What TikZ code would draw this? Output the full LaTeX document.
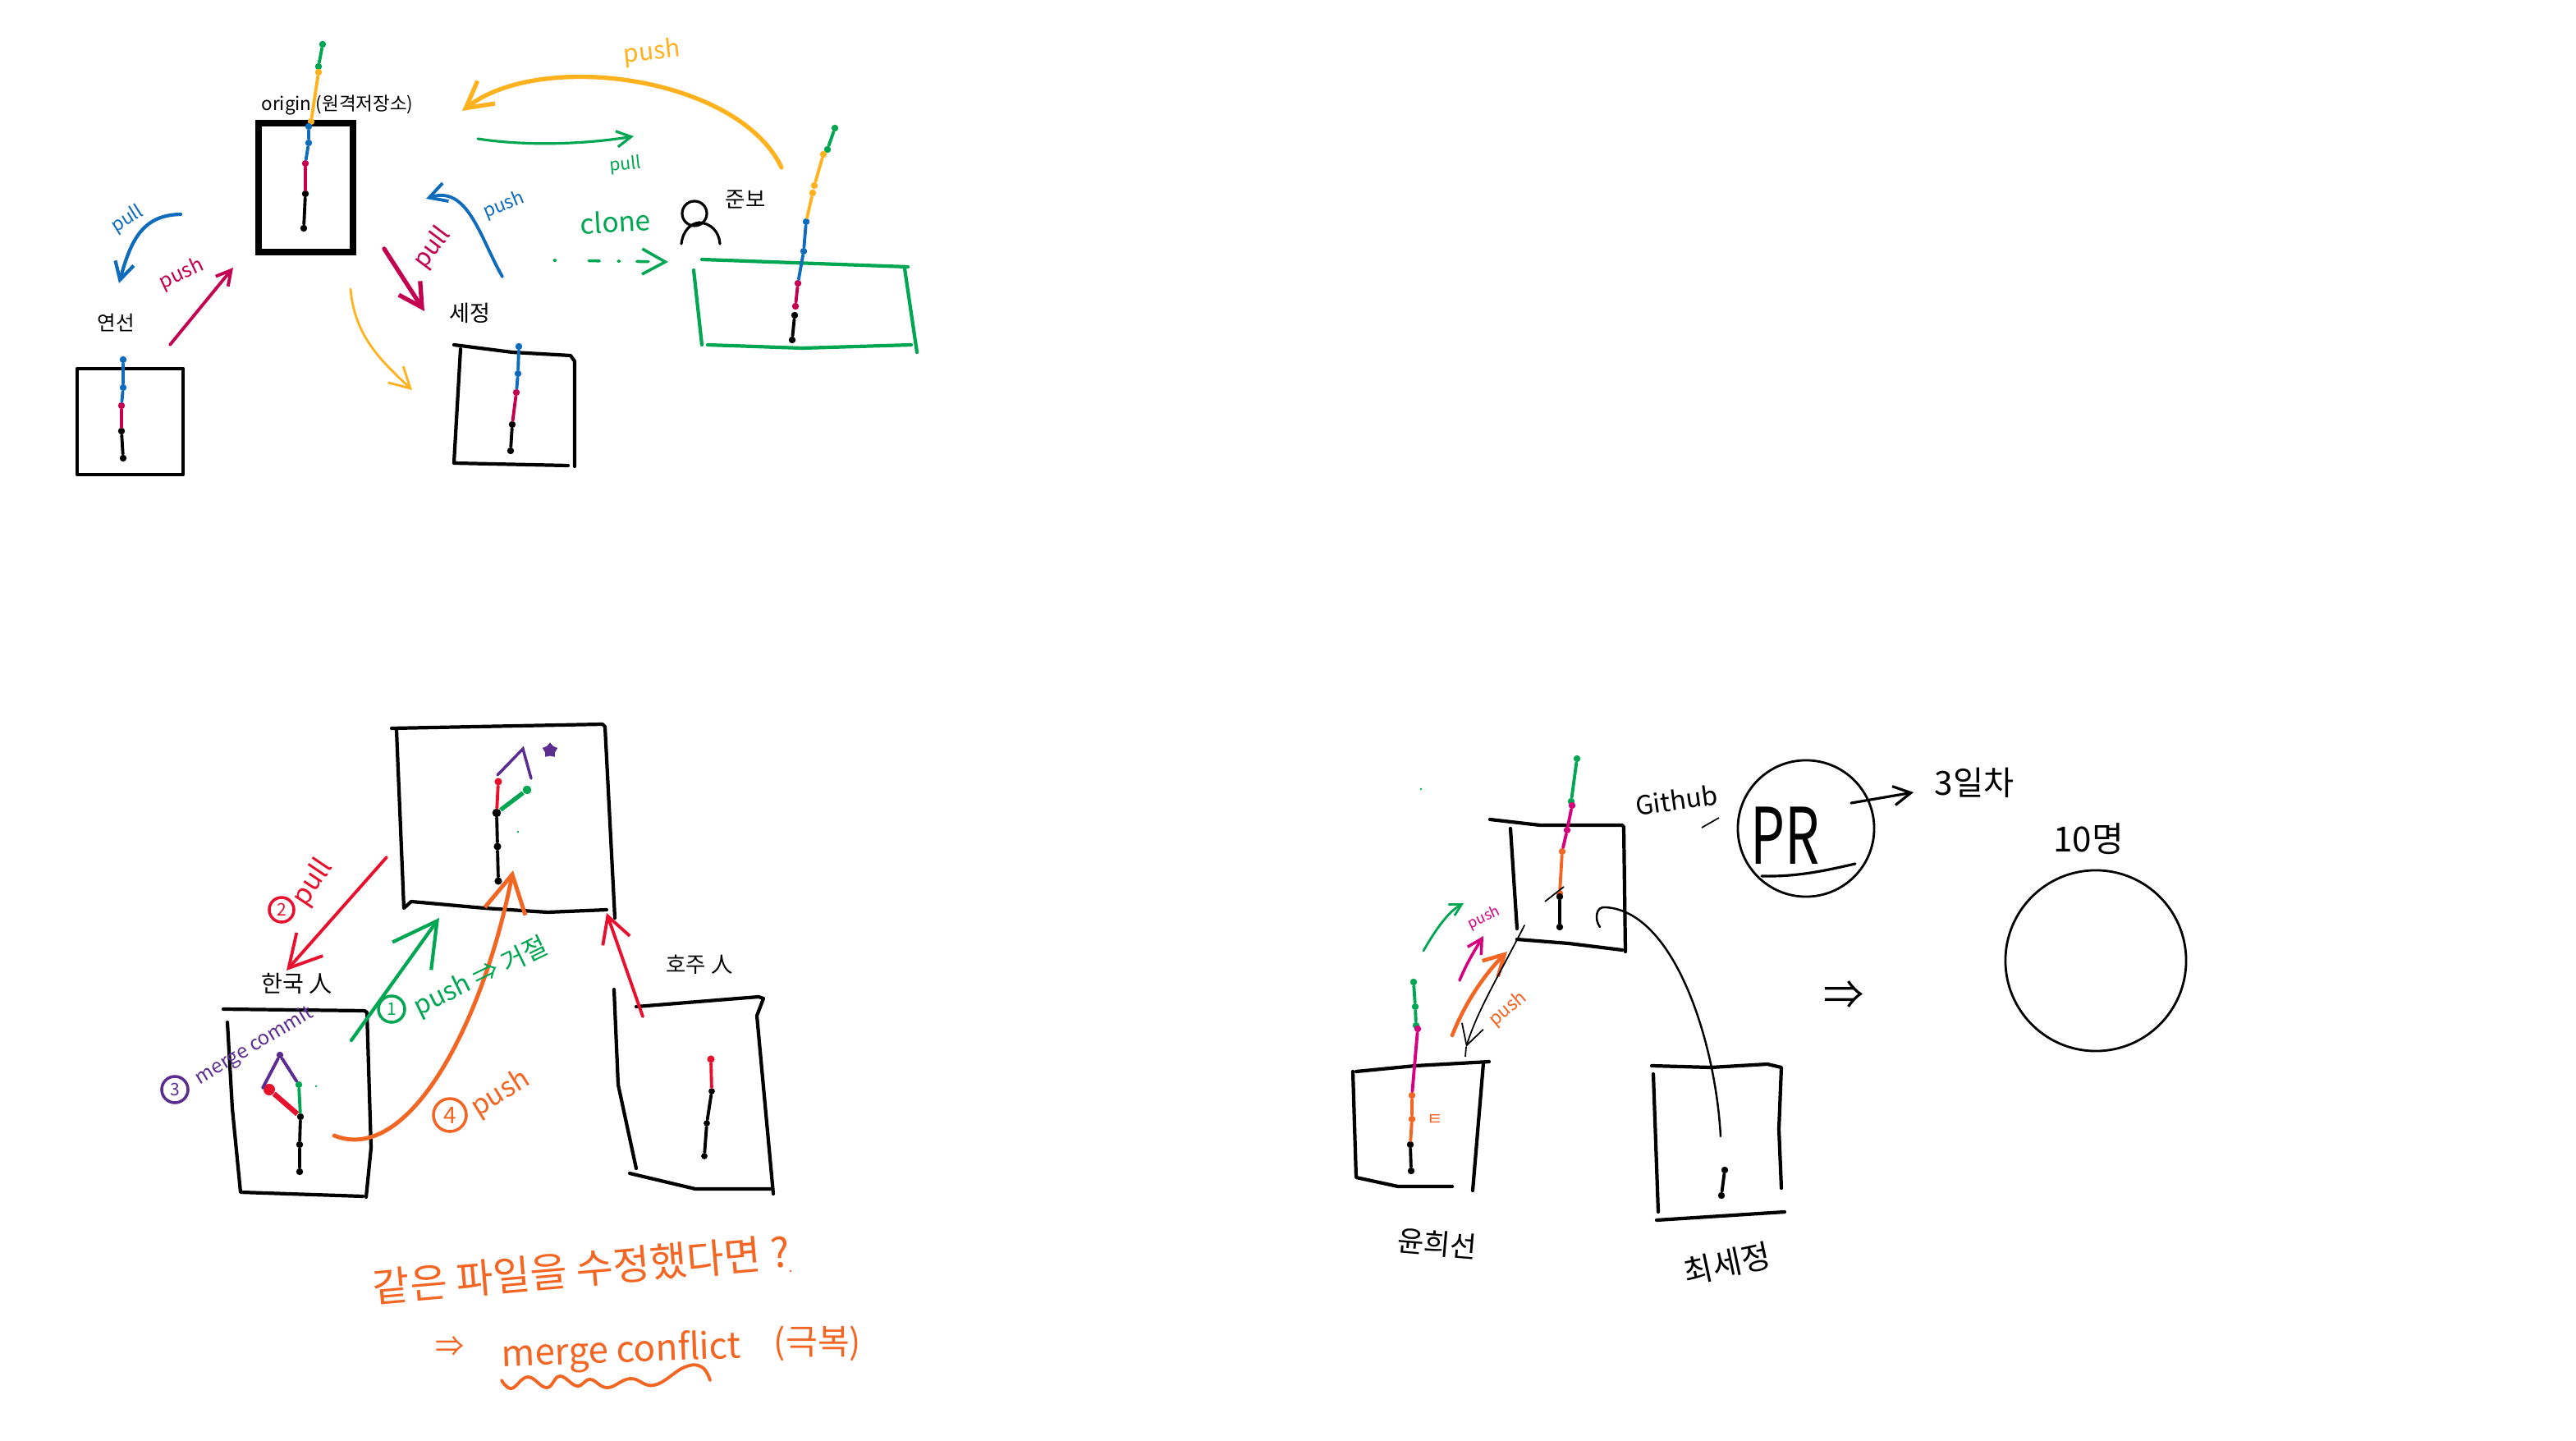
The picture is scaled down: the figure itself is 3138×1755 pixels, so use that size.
\documentclass[tikz,border=0pt]{standalone}
\usepackage{fontspec}
\setmainfont{Noto Sans CJK KR}
\usetikzlibrary{arrows.meta,shapes.geometric}
\definecolor{gityellow}{HTML}{FFB21E}
\definecolor{gitgreen}{HTML}{00A651}
\definecolor{gitblue}{HTML}{0F6CBD}
\definecolor{gitcrimson}{HTML}{C40050}
\definecolor{gitred}{HTML}{E8112D}
\definecolor{gitpurple}{HTML}{5C2D91}
\definecolor{gitorange}{HTML}{F26522}
\definecolor{gitmagenta}{HTML}{D6007F}
\tikzset{
  hand/.style={font=\fontsize{#1}{#1}\selectfont,inner sep=0pt},
  commit/.style={circle,inner sep=0pt,minimum size=2.4pt},
  link/.style={line width=1.1pt,line cap=round},
  box/.style={line width=1.2pt,line cap=round,line join=round},
  arrowl/.style={line cap=round,line width=#1},
  barb/.style={-{Straight Barb[length=#1,width=#1*1.1]}},
  numcircle/.style={circle,draw,line width=1pt,inner sep=0pt,minimum size=#1}
}
\begin{document}
\begin{tikzpicture}[x=0.01cm,y=-0.01cm]
    \useasboundingbox (0,0) rectangle (3138,1755);
    \fill[white] (0,0) rectangle (3138,1755);
    % first sketch
    \draw[line width=2pt] (315,150) rectangle (430,307);
    \draw[box] (94,449) rectangle (223,578);
    \draw[box] (553,420) -- (624,429) -- (695,433) -- (700,440) -- (700,568);
    \draw[box] (561,425) -- (553,564) -- (692,567);
    \draw[box,gitgreen] (855,316) -- (1106,325);
    \draw[box,gitgreen] (845,329) -- (855,420);
    \draw[box,gitgreen] (1102,327) -- (1117,429);
    \draw[box,gitgreen] (862,420) -- (977,424) -- (1110,420);
    \foreach \n/\x/\y/\col in {
        og/393/54/gitgreen,ogb/388/81/gitgreen,oy/388/88/gityellow,oyb/379/148/gityellow,
        ob/376/154/gitblue,obb/376/174/gitblue,oc/372/199/gitcrimson,
        ok/372/236/black,okb/370/278/black,
        yb/150/438/gitblue,ybb/150/472/gitblue,yc/148/494/gitcrimson,yk/148/525/black,ykb/150/558/black,
        sb/632/422/gitblue,sbb/631/455/gitblue,sc/629/478/gitcrimson,sk/624/517/black,skb/622/549/black,
        jg/1017/156/gitgreen,jgb/1008/182/gitgreen,jy/1003/188/gityellow,jyb/992/226/gityellow,
        jyc/990/235/gityellow,jb/982/270/gitblue,jbb/979/306/gitblue,jc/972/345/gitcrimson,
        jcb/969/373/gitcrimson,jk/968/384/black,jkb/965/414/black}
      \node[commit,fill=\col] (\n) at (\x,\y) {};
    \draw[link,gitgreen] (og) -- (ogb);
    \draw[link,gityellow] (oy) -- (oyb);
    \draw[link,gitblue] (ob) -- (obb) -- (oc);
    \draw[link,gitcrimson] (oc) -- (ok);
    \draw[link] (ok) -- (okb);
    \draw[link,gitblue] (yb) -- (ybb) -- (yc);
    \draw[link,gitcrimson] (yc) -- (yk);
    \draw[link] (yk) -- (ykb);
    \draw[link,gitblue] (sb) -- (sbb) -- (sc);
    \draw[link,gitcrimson] (sc) -- (sk);
    \draw[link] (sk) -- (skb);
    \draw[link,gitgreen] (jg) -- (jgb);
    \draw[link,gityellow] (jy) -- (jyb);
    \draw[link,gityellow] (jyc) -- (jb);
    \draw[link,gitblue] (jb) -- (jbb) -- (jc);
    \draw[link,gitcrimson] (jc) -- (jcb);
    \draw[link] (jk) -- (jkb);
    \foreach \n/\x/\y in {
        ypushs/952/204,ypushe/563/135,gpulls/582/169,gpulle/772/166,bpulls/220/261,bpulle/145/345,
        cpushs/207/420,cpushe/284/326,bpushs/612/337,bpushe/519/242,cpulls/468/303,cpulle/517/379,
        ypulls/427/352,ypulle/502/475,clones/675/317,clonee/814/319}
      \coordinate (\n) at (\x,\y);
    \draw[arrowl=1.5pt,gityellow,barb=9pt] (ypushs) .. controls (900,94) and (660,60) .. (ypushe);
    \draw[arrowl=.9pt,gitgreen,barb=5pt] (gpulls) .. controls (640,178) and (710,176) .. (gpulle);
    \draw[arrowl=1.2pt,gitblue,barb=6pt] (bpulls) .. controls (175,262) and (160,290) .. (bpulle);
    \draw[arrowl=1.1pt,gitcrimson,barb=5pt] (cpushs) -- (cpushe);
    \draw[arrowl=1.1pt,gitblue,barb=6pt] (bpushs) .. controls (585,290) and (570,225) .. (bpushe);
    \draw[arrowl=1.5pt,gitcrimson,barb=8pt] (cpulls) -- (cpulle);
    \draw[arrowl=.8pt,gityellow,barb=7pt] (ypulls) .. controls (432,410) and (465,440) .. (ypulle);
    \draw[arrowl=1pt,gitgreen,barb=8pt,dash pattern=on .5pt off 11.5pt on 3.7pt off 6.5pt on .5pt off 6pt on 4pt off 20pt] (clones) -- (clonee);
    \node[hand=6.4] (originlabel) at (411,128) {origin (원격저장소)};
    \node[hand=8.5,gityellow,rotate=6] (ypushlabel) at (794,64) {push};
    \node[hand=6,gitgreen,rotate=6] (gpulllabel) at (762,201) {pull};
    \node[hand=6.5,gitblue,rotate=32] (bpulllabel) at (155,267) {pull};
    \node[hand=7,gitcrimson,rotate=25] (cpushlabel) at (221,334) {push};
    \node[hand=6.4,gitblue,rotate=22] (bpushlabel) at (614,250) {push};
    \node[hand=8.5,gitcrimson,rotate=53] (cpulllabel) at (527,302) {pull};
    \node[hand=9.5,gitgreen,rotate=3] (clonelabel) at (750,270) {clone};
    \node[hand=7] (yeonlabel) at (141,393) {연선};
    \node[hand=7.7] (sejlabel) at (572,381) {세정};
    \node[hand=7.5] (junlabel) at (908,243) {준보};
    \node[circle,draw,line width=.9pt,minimum size=.3cm,inner sep=0pt] (junhead) at (846,260) {};
    \draw[line width=.9pt,line cap=round] (830,297) .. controls (832,280) and (842,272) .. (852,271)
      .. controls (866,272) and (876,282) .. (877,297);
    % second sketch
    \draw[box] (477,887) -- (734,882) -- (737,885) -- (749,1118);
    \draw[box] (483,889) -- (492,1106) -- (501,1098) -- (590,1106) -- (667,1111) -- (739,1108);
    \draw[box] (272,1229) -- (444,1231) -- (447,1233) -- (452,1398) -- (446,1458);
    \draw[box] (277,1245) -- (283,1350) -- (293,1452) -- (442,1457);
    \draw[box] (775,1226) -- (924,1214) -- (930,1216) -- (922,1237) -- (942,1454);
    \draw[box] (748,1205) -- (753,1321) -- (775,1423);
    \draw[box] (767,1429) -- (847,1448) -- (939,1448);
    \foreach \n/\x/\y/\col/\s in {
        hr/607/952/gitred/2.6pt,hg/642/962/gitgreen/3pt,hk/605/990/black/3pt,hkb/606/1031/black/2.6pt,hkc/607/1073/black/2.6pt,
        mp/341/1285/gitpurple/2.4pt,mr/328/1327/gitred/4pt,mg/364/1321/gitgreen/2.4pt,mk/366/1360/black/2.4pt,
        mkb/365/1394/black/2.4pt,mkc/365/1427/black/2.4pt,
        tr/866/1290/gitred/2.6pt,tk/867/1329/black/2.2pt,tkb/861/1368/black/2.2pt,tkc/858/1408/black/2.2pt}
      \node[commit,fill=\col,minimum size=\s] (\n) at (\x,\y) {};
    \draw[link,gitred] (hr) -- (hk);
    \draw[gitgreen,line width=1.5pt] (hg) -- (hk);
    \draw[link] (hk) -- (hkb) -- (hkc);
    \draw[link,gitpurple] (320,1325) -- (mp) -- (mg);
    \draw[gitred,line width=1.8pt] (mr) -- (mk);
    \draw[link,gitgreen] (mg) -- (mk);
    \draw[link] (mk) -- (mkb) -- (mkc);
    \draw[link,gitred] (tr) -- (tk);
    \draw[link] (tk) -- (tkb) -- (tkc);
    \foreach \n/\x/\y in {
        purps/606/944,purpe/637/912,purpf/647/948,orgs/407/1383,orge/625/1060,reds/471/1044,rede/349/1182,
        grns/428/1267,grne/535/1118,rrs/783/1238,rre/739/1112}
      \coordinate (\n) at (\x,\y);
    \draw[link,gitpurple,line width=1pt] (purps) -- (purpe) -- (purpf);
    \node[star,star points=5,fill=gitpurple,minimum size=5.5pt,inner sep=0pt] (purpstar) at (670,914) {};
    \draw[arrowl=1.4pt,gitorange,barb=13pt] (orgs) .. controls (500,1420) and (590,1240) .. (orge);
    \draw[arrowl=1.1pt,gitred,barb=11pt] (reds) -- (rede);
    \draw[arrowl=1.2pt,gitgreen,barb=15pt] (grns) -- (grne);
    \draw[arrowl=1.1pt,gitred,barb=9pt] (rrs) -- (rre);
    \node[numcircle=.3cm,gitred,hand=6] (pullnum) at (343,1108) {2};
    \node[hand=9.5,gitred,rotate=56] (pullstep) at (381,1075) {pull};
    \node[numcircle=.32cm,gitgreen,hand=6] (pushnum) at (477,1229) {1};
    \node[hand=9,gitgreen,rotate=26] (pushstep) at (586,1190) {push ⇒ 거절};
    \node[numcircle=.4cm,gitorange,hand=8] (pushlast) at (548,1358) {4};
    \node[hand=9.5,gitorange,rotate=32] (pushlaststep) at (610,1332) {push};
    \node[numcircle=.32cm,gitpurple,hand=6] (mergenum) at (213,1327) {3};
    \node[hand=6.8,gitpurple,rotate=31] (mergestep) at (310,1274) {merge commit};
    \node[hand=8] (hanlabel) at (362,1198) {한국 人};
    \node[hand=7.5] (holabel) at (852,1175) {호주 人};
    \node[hand=14,gitorange,rotate=5] (samefile) at (708,1546) {같은 파일을 수정했다면 ?};
    \node[hand=10,gitorange] (conflictarrow) at (548,1640) {⇒};
    \node[hand=12.5,gitorange,rotate=2] (conflict) at (757,1647) {merge conflict};
    \node[hand=12,gitorange] (conflictnote) at (996,1636) {(극복)};
    \draw[line width=1.1pt,gitorange,line cap=round] plot[smooth,tension=.7] coordinates {
        (611,1681) (623,1691) (643,1677) (666,1690) (682,1676) (703,1688) (719,1680) (740,1690)
        (768,1679) (797,1687) (834,1665) (855,1665) (865,1681)};
    % third sketch
    \draw[box] (1815,998) -- (1876,1005) -- (1976,1005) -- (1978,1007) -- (1980,1159);
    \draw[box] (1840,1009) -- (1848,1131);
    \draw[box] (1848,1144) -- (1911,1149) -- (1976,1157);
    \draw[box] (1652,1305) -- (1724,1298) -- (1814,1293);
    \draw[box] (1648,1305) -- (1652,1434) -- (1703,1445) -- (1769,1445);
    \draw[box] (1807,1295) -- (1794,1450);
    \draw[box] (2012,1298) -- (2084,1300) -- (2153,1296) -- (2170,1300) -- (2167,1375) -- (2170,1447);
    \draw[box] (2014,1308) -- (2020,1476);
    \draw[box] (2018,1486) -- (2174,1476);
    \foreach \n/\x/\y/\col in {
        gg/1921/924/gitgreen,ggb/1914/976/gitgreen,gm/1915/981/gitmagenta,gmb/1909/1011/gitmagenta,
        go/1903/1037/gitorange,gob/1900/1088/gitorange,gk/1900/1092/black,gkb/1900/1129/black,
        lg/1722/1196/gitgreen,lgb/1724/1226/gitgreen,lgc/1725/1249/gitgreen,lm/1727/1253/gitmagenta,
        lo/1720/1334/gitorange,lob/1720/1363/gitorange,lk/1718/1394/black,lkb/1719/1426/black,
        rk/2101/1425/black,rkb/2097/1456/black}
      \node[commit,fill=\col] (\n) at (\x,\y) {};
    \draw[link,gitgreen] (gg) -- (ggb);
    \draw[link,gitmagenta] (gm) -- (gmb) -- (go);
    \draw[link,gitorange] (go) -- (gob);
    \draw[link] (gk) -- (gkb);
    \draw[line width=.5pt] (1882,1098) -- (1905,1080);
    \draw[link,gitgreen] (lg) -- (lgb) -- (lgc);
    \draw[link,gitmagenta] (lm) -- (lo);
    \draw[link,gitorange] (lo) -- (lob) -- (lk);
    \draw[link] (lk) -- (lkb);
    \draw[link] (rk) -- (rkb);
    \foreach \n/\x/\y in {
        sgs/1734/1158,sge/1783/1100,sms/1778/1194,sme/1807/1140,sos/1769/1261,soe/1836/1159,
        sks/1857/1127,ske/1786/1275,prs/2255/978,pre/2331/965,curs/2096/1384,cure/1949/1129}
      \coordinate (\n) at (\x,\y);
    \draw[arrowl=.8pt,gitgreen,barb=4pt] (sgs) .. controls (1750,1130) and (1765,1110) .. (sge);
    \draw[arrowl=1pt,gitmagenta,barb=5pt] (sms) .. controls (1788,1170) and (1798,1155) .. (sme);
    \draw[arrowl=1.3pt,gitorange,barb=7pt] (sos) .. controls (1785,1220) and (1810,1185) .. (soe);
    \draw[arrowl=.5pt,barb=7pt] (sks) .. controls (1825,1190) and (1800,1230) .. (ske);
    \draw[line width=.5pt] (ske) -- (1785,1287);
    \draw[arrowl=.9pt,barb=6pt] (prs) -- (pre);
    \draw[line width=.7pt,line cap=round] (curs) .. controls (2090,1270) and (2040,1110) .. (1956,1105)
      .. controls (1944,1103) and (1942,1120) .. (cure);
    \node[hand=9,rotate=8] (githublabel) at (2042,974) {Github};
    \draw[line width=.5pt] (2073,1008) -- (2094,996);
    \node[circle,draw,line width=.8pt,minimum size=1.66cm,inner sep=0pt] (prcircle) at (2200,1009) {};
    \node[hand=27,xscale=.7] (prlabel) at (2175,1018) {PR};
    \draw[line width=.9pt,line cap=round] (2146,1067) .. controls (2190,1068) and (2225,1060) .. (2260,1052);
    \node[hand=11.5] (daylabel) at (2405,953) {3일차};
    \node[hand=12] (tenlabel) at (2544,1022) {10명};
    \node[circle,draw,line width=.8pt,minimum size=2.2cm,inner sep=0pt] (tencircle) at (2553,1170) {};
    \node[hand=14] (eqarrow) at (2246,1212) {⇒};
    \node[hand=5,gitmagenta,rotate=25] (smalllabel) at (1808,1118) {push};
    \node[hand=6.4,gitorange,rotate=40] (orangelabel) at (1837,1229) {push};
    \node[hand=6,gitorange] (orangemark) at (1748,1364) {ㅌ};
    \node[hand=10,rotate=-5] (yunlabel) at (1751,1515) {윤희선};
    \node[hand=11,rotate=12] (choilabel) at (2104,1539) {최세정};
    \foreach \n/\x/\y/\col in {
        ta/1731/961/gitgreen,tb/385/1323/gitgreen,tc/631/1013/gitgreen,td/963/1548/gitorange}
      \node[commit,fill=\col,minimum size=.8pt] (\n) at (\x,\y) {};
\end{tikzpicture}
\end{document}
